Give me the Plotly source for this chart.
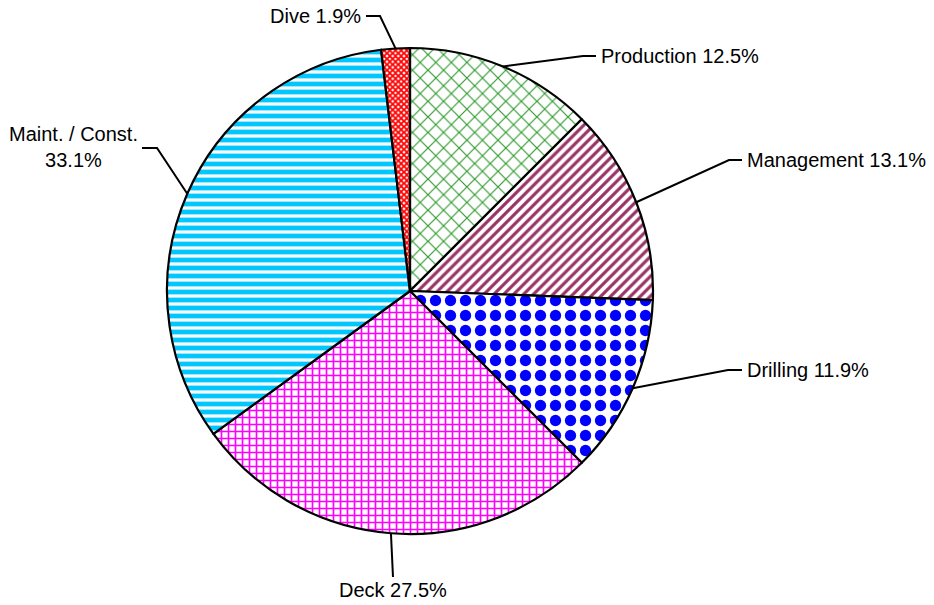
import numpy as np
import plotly.graph_objects as go

# slices, clockwise from 12 o'clock
labels = ["Production", "Management", "Drilling", "Deck", "Maint. / Const.", "Dive"]
shares = [12.5, 13.1, 11.9, 27.5, 33.1, 1.9]
label_sep = [" ", " ", " ", " ", "<br>", " "]

# fill patterns
fg_colors = ["#2f9a2f", "#993366", "#0000ff", "#ff00ff", "#00c8ff", "#ff0000"]
shapes_ = ["x", "/", ".", "+", "-", "x"]
sizes = [11, 7, 15, 7, 8, 4]
solid = [0.2, 0.45, 0.45, 0.42, 0.6, 0.7]

W, H = 934, 605
OFF = 8  # page body margin
cx, cy, R = 410, 291, 243

# leader line elbows and label anchors (screen pixels)
elbow = [(583, 56), (729, 160), (728, 370), (393, 577), (157, 148), (380, 16)]
tail = [(596, 56), (742, 160), (742, 370), None, (142, 148), (366, 16)]
text_pos = [(599, 56, "left"), (745, 160, "left"), (745, 370, "left"),
            (393, 590, "center"), (73, 147, "center"), (363, 16, "right")]


def fx(x):
    return (x - OFF) / W


def fy(y):
    return 1 - (y - OFF) / H


fig = go.Figure(
    go.Pie(
        labels=labels,
        values=shares,
        sort=False,
        direction="clockwise",
        rotation=0,
        textinfo="none",
        hoverinfo="label+percent",
        showlegend=False,
        domain=dict(x=[fx(cx - R), fx(cx + R)], y=[fy(cy + R), fy(cy - R)]),
        marker=dict(
            colors=["white"] * len(labels),
            line=dict(color="black", width=2.2),
            pattern=dict(shape=shapes_, fgcolor=fg_colors, bgcolor="white",
                         fgopacity=1, size=sizes, solidity=solid,
                         fillmode="replace"),
        ),
    )
)

total = sum(shares)
cum = 0.0
shapes = []
annotations = []
for i, (lab, v) in enumerate(zip(labels, shares)):
    theta = np.deg2rad(360 * (cum + v / 2) / total)
    cum += v
    ex, ey = cx + R * np.sin(theta), cy - R * np.cos(theta)
    pts = [(ex, ey), elbow[i]]
    if tail[i] is not None:
        pts.append(tail[i])
    path = "M " + " L ".join(f"{fx(x)},{fy(y)}" for x, y in pts)
    shapes.append(dict(type="path", xref="paper", yref="paper", path=path,
                       line=dict(color="black", width=2)))
    tx, ty, anchor = text_pos[i]
    annotations.append(dict(
        x=fx(tx), y=fy(ty), xref="paper", yref="paper",
        text=f"{lab}{label_sep[i]}{v}%", showarrow=False,
        xanchor=anchor, yanchor="middle", align="center",
        font=dict(family="Liberation Sans, Arial", size=20, color="black"),
    ))

fig.update_layout(
    width=W, height=H,
    margin=dict(l=0, r=0, t=0, b=0),
    paper_bgcolor="white",
    plot_bgcolor="white",
    shapes=shapes,
    annotations=annotations,
)

fig.write_html("out.html")
